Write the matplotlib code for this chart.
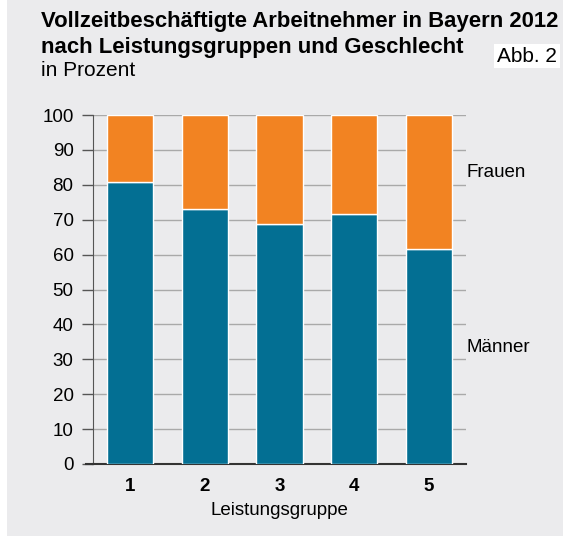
import matplotlib.pyplot as plt
from matplotlib.patches import Rectangle

plt.rcParams['font.family'] = ['Liberation Sans', 'DejaVu Sans']

# Leistungsgruppen and shares in percent
gruppen = ['1', '2', '3', '4', '5']
maenner = [80.9, 73.1, 68.8, 71.5, 61.6]
frauen = [100 - m for m in maenner]

blue = '#036f93'
orange = '#f28322'
bg = '#ebebed'

fig = plt.figure(figsize=(5.75, 5.36), dpi=100)
fig.patch.set_facecolor('white')
fig.patches.append(Rectangle((7 / 575, 0), 556 / 575, 1, transform=fig.transFigure,
                             facecolor=bg, edgecolor='none', zorder=-10))

ax = fig.add_axes([93 / 575, 1 - 464 / 536, (466 - 93) / 575, (464 - 115) / 536])
ax.set_facecolor(bg)

x = range(1, len(gruppen) + 1)
ax.bar(x, maenner, width=0.62, color=blue, edgecolor='white', linewidth=1, zorder=3)
ax.bar(x, frauen, bottom=maenner, width=0.62, color=orange, edgecolor='white',
       linewidth=1, zorder=3)

ax.set_xlim(0.5, 5.5)
ax.set_ylim(0, 100)
ax.set_yticks(range(0, 101, 10))
ax.set_xticks(list(x))
ax.set_xticklabels(gruppen, fontweight='bold', fontsize=13.5)
ax.yaxis.grid(True, color='#a9a9a9', linewidth=1, zorder=0)
ax.tick_params(axis='y', length=8, width=1, color='#555555', labelsize=13.5, pad=6)
ax.tick_params(axis='x', length=0, pad=10)
for s in ['top', 'right']:
    ax.spines[s].set_visible(False)
ax.spines['left'].set_color('#555555')
ax.spines['bottom'].set_color('#333333')
ax.spines['bottom'].set_linewidth(1.5)
# bottom line reaches out to the left like the ticks
ax.plot([-0.018, 0], [0, 0], transform=ax.transAxes, color='#333333', lw=1.5,
        clip_on=False, zorder=4)
ax.set_xlabel('Leistungsgruppe', fontsize=13.5, labelpad=5)

ax.text(1.0, 0.834, 'Frauen', transform=ax.transAxes, fontsize=13.5, va='center')
ax.text(1.0, 0.335, 'Männer', transform=ax.transAxes, fontsize=13.5, va='center')

fig.text(41 / 575, 1 - 21 / 536, 'Vollzeitbeschäftigte Arbeitnehmer in Bayern 2012',
         fontsize=15.9, fontweight='bold', va='center')
fig.text(41 / 575, 1 - 47 / 536, 'nach Leistungsgruppen und Geschlecht',
         fontsize=15.9, fontweight='bold', va='center')
fig.text(41 / 575, 1 - 71 / 536, 'in Prozent', fontsize=15, va='center')
fig.text(557 / 575, 1 - 56 / 536, 'Abb. 2', fontsize=15, ha='right', va='center',
         bbox=dict(facecolor='white', edgecolor='none', pad=2))

fig.savefig('out.png', dpi=100)
